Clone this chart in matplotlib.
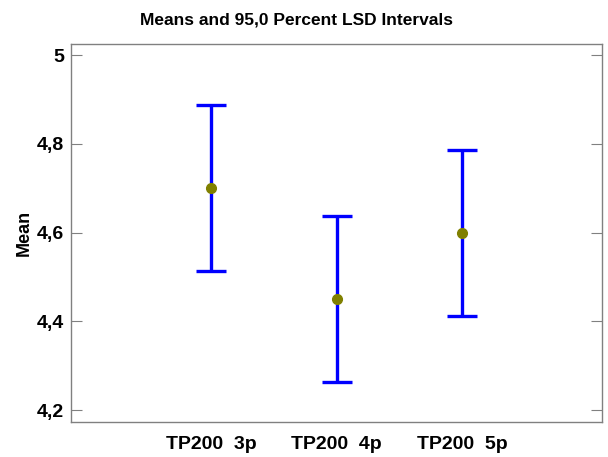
import matplotlib
matplotlib.use("Agg")
import matplotlib.pyplot as plt
from matplotlib.ticker import FuncFormatter

categories = ["TP200  3p", "TP200  4p", "TP200  5p"]
means = [4.70, 4.45, 4.60]
lower = [4.513, 4.263, 4.413]
upper = [4.887, 4.637, 4.787]
yticks = [4.2, 4.4, 4.6, 4.8, 5.0]

plt.rcParams['font.family'] = ['Liberation Sans', 'DejaVu Sans']

fig = plt.figure(figsize=(6.08, 4.57), dpi=100)
ax = fig.add_axes([71/608, 1-422/457, (602-71)/608, (422-44)/457])

x = list(range(1, len(categories)+1))
yerr = [[m - l for m, l in zip(means, lower)], [u - m for m, u in zip(means, upper)]]
ax.errorbar(x, means, yerr=yerr, fmt='none', ecolor='#0000ff', elinewidth=2.4,
            capsize=10.5, capthick=2.4, zorder=2)
ax.plot(x, means, 'o', color='#808000', markersize=7, zorder=3)

ax.set_xlim(-0.116, 4.116)
ax.set_ylim(4.173, 5.025)
ax.set_xticks(x)
ax.set_xticklabels(categories, fontsize=14, fontweight='bold')
ax.set_yticks(yticks)
ax.yaxis.set_major_formatter(FuncFormatter(lambda v, p: ('%g' % round(v, 1)).replace('.', ',')))
for lbl in ax.get_yticklabels():
    lbl.set_fontsize(14)
    lbl.set_fontweight('bold')
ax.tick_params(axis='y', direction='in', length=8, color='#808080', left=True, right=True, pad=5)
ax.tick_params(axis='x', length=0, pad=10)
for s in ax.spines.values():
    s.set_color('#808080')
    s.set_linewidth(1.0)

ax.set_ylabel('Mean', fontsize=13, fontweight='bold', labelpad=3)
fig.text(297/608, 1-20/457, 'Means and 95,0 Percent LSD Intervals', fontsize=12.5,
         fontweight='bold', ha='center', va='center')

fig.savefig('out.png', dpi=100)
